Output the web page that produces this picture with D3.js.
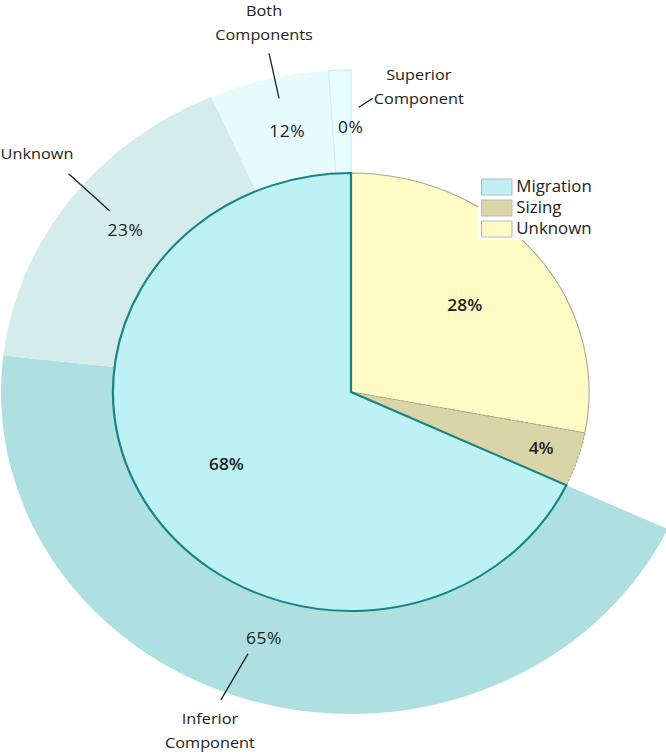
<!DOCTYPE html>
<html>
<head>
<meta charset="utf-8">
<script src="https://cdn.jsdelivr.net/npm/d3@7"></script>
<style>
  body { margin: 0; background: #fff; }
  text { font-family: "Open Sans", "Noto Sans", sans-serif; fill: #222; }
</style>
</head>
<body>
<div id="chart"></div>
<script>
// inner pie: cause
const innerCats = ["Migration", "Sizing", "Unknown"];
const innerValues = [68, 4, 28];
const innerColors = ["#bdf1f3", "#d9d5a9", "#fffbc4"];

const outerCats = ["Inferior Component", "Unknown", "Both Components", "Superior Component"];
const outerShare = [65.9, 24.5, 8.1, 1.5];
const outerLabels = ["65%", "23%", "12%", "0%"];
const outerColors = ["#aee0e2", "#d4ecec", "#e6fbfc", "#e9fcfd"];

const width = 666;
const height = 753;
const sx = 1.087;             // picture is stretched horizontally
const cx = 351 / sx, cy = 392;
const rIn = 219, rOut = 322;

const svg = d3.select("#chart")
    .append("svg")
    .attr("width", width)
    .attr("height", height);

const root = svg.append("g")
    .attr("transform", `scale(${sx},1)`);

const g = root.append("g")
    .attr("transform", `translate(${cx},${cy})`);

// inner pie goes counter-clockwise from 12 o'clock so Migration ends up on the left
const innerPie = d3.pie().sort(null).startAngle(2 * Math.PI).endAngle(0);
const innerArcs = innerPie(innerValues);
const mig = innerArcs[0];

const outerPie = d3.pie().sort(null)
    .startAngle(mig.endAngle)
    .endAngle(mig.startAngle);
const outerArcs = outerPie(outerShare);

const ringArc = d3.arc().innerRadius(rIn - 2).outerRadius(rOut);
g.selectAll(".outer")
    .data(outerArcs)
    .enter()
    .append("path")
    .attr("class", "outer")
    .attr("d", ringArc)
    .attr("fill", (d, i) => outerColors[i])
    .attr("stroke", (d, i) => i == 3 ? "#c4eef1" : "none")
    .attr("stroke-width", 1);

const pieArc = d3.arc().innerRadius(0).outerRadius(rIn);
// yellow and khaki first, Migration on top so its teal edge shows
const drawOrder = [2, 1, 0];
drawOrder.forEach(i => {
    const d = innerArcs[i];
    g.append("path")
        .attr("d", pieArc(d))
        .attr("fill", innerColors[i])
        .attr("stroke", i == 0 ? "#1a8383" : "#aaa892")
        .attr("stroke-width", i == 0 ? 2 : 1)
        .attr("stroke-dasharray", i == 1 ? "3,1" : null);
});

// inner labels
innerArcs.forEach((d, i) => {
    const share = innerValues[i] / d3.sum(innerValues);
    const r = share < 0.1 ? rIn * 0.84 : rIn * 0.62;
    const c = d3.arc().innerRadius(r).outerRadius(r).centroid(d);
    g.append("text")
        .attr("x", c[0])
        .attr("y", c[1])
        .attr("dy", "0.35em")
        .attr("text-anchor", "middle")
        .style("font-size", "16px")
        .style("font-weight", "600")
        .text(innerValues[i] + "%");
});

// outer labels with callouts
const callout = [
    {nudge: [-7.4, -9], line: [[-14.7, 15], [-39.6, 61]], name: [-49.7, 85], anchor: "middle", lines: ["Inferior", "Component"]},
    {nudge: [6.4, -3], line: [[-14.7, -20], [-52.4, -57]], name: [-115, -72], anchor: "start", lines: ["Unknown"]},
    {nudge: [3.7, -2], line: [[-7.4, -33], [-16.6, -78]], name: [-21.2, -115], anchor: "middle", lines: ["Both", "Components"]},
    {nudge: [8.3, 1], line: [[7.4, -20], [20.2, -29]], name: [62.6, -47], anchor: "middle", lines: ["Superior", "Component"]}
];
const labelArc = d3.arc().innerRadius(266).outerRadius(266);
outerArcs.forEach((d, i) => {
    const co = callout[i];
    const c0 = labelArc.centroid(d);
    const c = [c0[0] + co.nudge[0], c0[1] + co.nudge[1]];
    g.append("text")
        .attr("x", c[0])
        .attr("y", c[1])
        .attr("dy", "0.35em")
        .attr("text-anchor", "middle")
        .style("font-size", "16px")
        .style("letter-spacing", "0.5px")
        .text(outerLabels[i]);

    g.append("line")
        .attr("x1", c[0] + co.line[0][0])
        .attr("y1", c[1] + co.line[0][1])
        .attr("x2", c[0] + co.line[1][0])
        .attr("y2", c[1] + co.line[1][1])
        .attr("stroke", "#222")
        .attr("stroke-width", 1.2);

    co.lines.forEach((t, k) => {
        g.append("text")
            .attr("x", c[0] + co.name[0])
            .attr("y", c[1] + co.name[1] + k * 24)
            .attr("text-anchor", co.anchor)
            .style("font-size", "15px")
            .text(t);
    });
});

// legend
const lx = 440, ly = 176;
const legend = root.append("g")
    .attr("transform", `translate(${lx},${ly})`);
legend.append("rect")
    .attr("x", 0)
    .attr("y", 0)
    .attr("width", 112)
    .attr("height", 64)
    .attr("fill", "#fff");
innerCats.forEach((name, i) => {
    legend.append("rect")
        .attr("x", 3)
        .attr("y", 3 + i * 21)
        .attr("width", 28)
        .attr("height", 16)
        .attr("fill", innerColors[i])
        .attr("stroke", "#b8bcbc")
        .attr("stroke-width", 1);
    legend.append("text")
        .attr("x", 35)
        .attr("y", 11 + i * 21)
        .attr("dy", "0.35em")
        .style("font-size", "15.5px")
        .text(name);
});
</script>
</body>
</html>
